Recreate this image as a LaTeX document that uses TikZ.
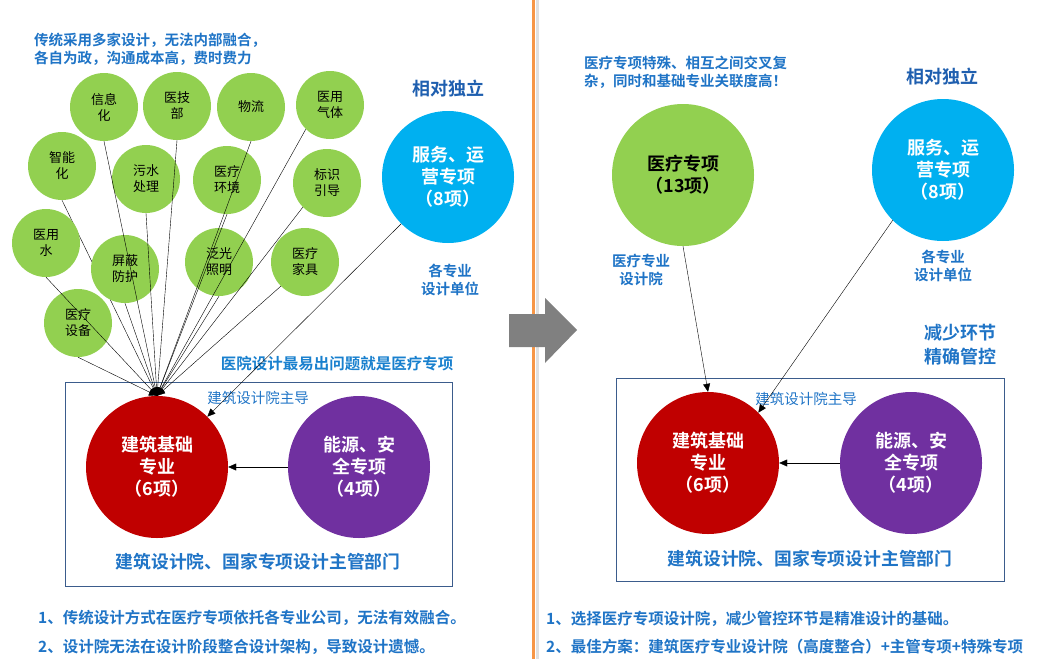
\documentclass[tikz,border=0pt]{standalone}
\usepackage{fontspec}
\setmainfont{Noto Sans CJK SC}[BoldFont={Noto Sans CJK SC Bold}]
\usepackage{tikz}
\usetikzlibrary{arrows,arrows.meta,positioning,shapes,backgrounds}
\definecolor{itemgreen}{HTML}{92D050}
\definecolor{basered}{HTML}{C00000}
\definecolor{safepurple}{HTML}{7030A0}
\definecolor{servblue}{HTML}{00B0F0}
\definecolor{txtblue}{HTML}{1F74C6}
\definecolor{deepblue}{HTML}{1F5FAF}
\definecolor{framblue}{HTML}{3B5C8C}
\definecolor{divorange}{HTML}{F79646}

\begin{document}
\begin{tikzpicture}[x=1pt,y=-1pt,>={Triangle[length=8pt,width=7pt]},
  item node/.style={circle,fill=itemgreen,minimum size=68pt,inner sep=0pt,align=center,font=\fontsize{13}{16}\selectfont},
  big node/.style={circle,minimum size=142pt,inner sep=0pt,align=center,text=white,font=\fontsize{18}{22}\selectfont\bfseries},
  note/.style={text=txtblue,align=center,inner sep=0pt,font=\fontsize{14.5}{18}\selectfont\bfseries}]%
\useasboundingbox (0,0) rectangle (1049,659);
% divider and arrow
\draw[black!12,line width=3pt] (537,0) -- (537,659);
\draw[divorange,line width=3pt] (533.5,0) -- (533.5,659);
\fill[black!50] (509,314) -- (545,314) -- (545,298) -- (577,330) -- (545,363) -- (545,347) -- (509,347) -- cycle;
% left: items
\begin{scope}[every node/.style={item node}]
\node (g1) at (104,107) {信息\\化};
\node (g2) at (177,106) {医技\\部};
\node (g3) at (251,107) {物流};
\node (g4) at (330,105) {医用\\气体};
\node (g5) at (62,166) {智能\\化};
\node (g6) at (146,179) {污水\\处理};
\node (g7) at (227,180) {医疗\\环境};
\node (g8) at (327,183) {标识\\引导};
\node (g9) at (46,243) {医用\\水};
\node (g10) at (125,269) {屏蔽\\防护};
\node (g11) at (219,262) {泛光\\照明};
\node (g12) at (305,262) {医疗\\家具};
\node (g13) at (78,323) {医疗\\设备};
\end{scope}
\node[big node,fill=basered] (r1) at (157,467) {建筑基础\\专业\\（6项）};
\node[big node,fill=safepurple] (p1) at (359,467) {能源、安\\全专项\\（4项）};
\node[big node,fill=servblue,minimum size=132pt] (b1) at (448,177) {服务、运\\营专项\\（8项）};
\draw[framblue,line width=1pt] (65,382) rectangle (452,586);
\node[note,anchor=west,align=left] (t1) at (34,49) {传统采用多家设计，无法内部融合，\\各自为政，沟通成本高，费时费力};
\node[note,text=deepblue,font=\fontsize{18}{22}\selectfont\bfseries] (ind1) at (448,89) {相对独立};
\node[note] (unit1) at (450,280) {各专业\\设计单位};
\node[note,text=txtblue!80!servblue,font=\fontsize{15.5}{18}\selectfont\bfseries] (warn1) at (337,364) {医院设计最易出问题就是医疗专项};
\node[note,font=\fontsize{14.5}{18}\selectfont] (lead1) at (258,398) {建筑设计院主导};
\node[note,font=\fontsize{17.8}{22}\selectfont\bfseries] (dept1) at (258,562) {建筑设计院、国家专项设计主管部门};
\node[note,anchor=west,font=\fontsize{15.5}{18}\selectfont\bfseries] (n1) at (38,618) {1、传统设计方式在医疗专项依托各专业公司，无法有效融合。};
\node[note,anchor=west,font=\fontsize{15.5}{18}\selectfont\bfseries] (n2) at (38,647) {2、设计院无法在设计阶段整合设计架构，导致设计遗憾。};
% left: links
\begin{scope}[on background layer]
\draw[->,thin] (g5.south) -- (r1.north);
\end{scope}
\begin{scope}[thin]
\draw[->] (g1.south) -- (r1.north);
\draw[->] (g2.south) -- (r1.north);
\draw[->] (g3.south) -- (r1.north);
\draw[->] (g4.south west) -- (r1.north);
\draw[->] (g6.south) -- (r1.north);
\draw[->] (g7.south) -- (r1.north);
\draw[->] (g8.south west) -- (r1.north);
\draw[->] (g9.south) -- (r1.north);
\draw[->] (g10.south) -- (r1.north);
\draw[->] (g11.south) -- (r1.north);
\draw[->] (g12.south west) -- (r1.north);
\draw[->] (g13.south) -- (r1.north);
\draw[->] (b1.south west) -- (r1.north east);
\draw[->] (p1.west) -- (r1.east);
\end{scope}
% right
\node[big node,fill=itemgreen,text=black] (m2) at (683,175) {医疗专项\\（13项）};
\node[big node,fill=servblue] (b2) at (943,170) {服务、运\\营专项\\（8项）};
\node[big node,fill=basered] (r2) at (708,463) {建筑基础\\专业\\（6项）};
\node[big node,fill=safepurple] (p2) at (911,463) {能源、安\\全专项\\（4项）};
\draw[framblue,line width=1pt] (616,378) rectangle (1004,581);
\node[note,anchor=west,align=left,font=\fontsize{14.5}{18}\selectfont\bfseries] (t2) at (584,72) {医疗专项特殊、相互之间交叉复\\杂，同时和基础专业关联度高！};
\node[note,text=deepblue,font=\fontsize{18}{22}\selectfont\bfseries] (ind2) at (942,77) {相对独立};
\node[note] (med2) at (641,270) {医疗专业\\设计院};
\node[note] (unit2) at (943,266) {各专业\\设计单位};
\node[note,font=\fontsize{18}{24}\selectfont\bfseries] (less2) at (960,345) {减少环节\\精确管控};
\node[note,font=\fontsize{14.5}{18}\selectfont] (lead2) at (806,399) {建筑设计院主导};
\node[note,font=\fontsize{17.8}{22}\selectfont\bfseries] (dept2) at (810,559) {建筑设计院、国家专项设计主管部门};
\node[note,anchor=west,font=\fontsize{15.5}{18}\selectfont\bfseries] (n3) at (546,619) {1、选择医疗专项设计院，减少管控环节是精准设计的基础。};
\node[note,anchor=west,font=\fontsize{15.5}{18}\selectfont\bfseries] (n4) at (546,647) {2、最佳方案：建筑医疗专业设计院（高度整合）+主管专项+特殊专项};
\begin{scope}[thin]
\draw[->] (m2.south) -- (r2.north);
\draw[->] (b2.south west) -- (r2.north east);
\draw[->] (p2.west) -- (r2.east);
\end{scope}
\end{tikzpicture}
\end{document}
